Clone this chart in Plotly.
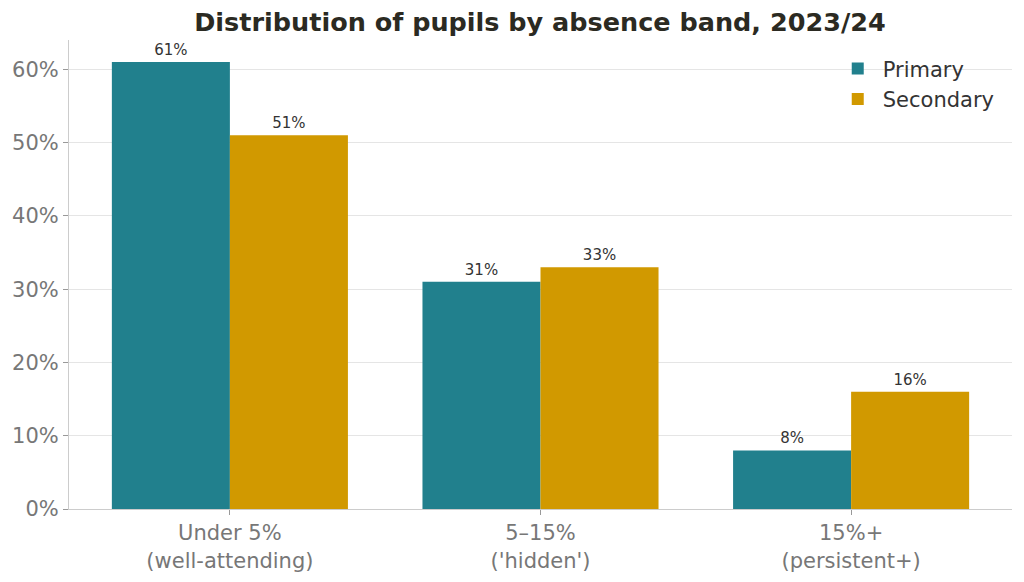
import plotly.graph_objects as go

categories = ["Under 5%<br>(well-attending)", "5–15%<br>('hidden')", "15%+<br>(persistent+)"]
primary = [61, 31, 8]
secondary = [51, 33, 16]
y_ticks = [0, 10, 20, 30, 40, 50, 60]
y_tick_labels = ["0%", "10%", "20%", "30%", "40%", "50%", "60%"]

TEAL = "#21808d"
GOLD = "#d19900"
FONT = "DejaVu Sans"

fig = go.Figure()
fig.add_trace(go.Bar(
    name="Primary", x=categories, y=primary, marker_color=TEAL,
    marker_line_width=0,
    text=[f"{v}%" for v in primary], textposition="outside",
    textfont=dict(size=15, color="#333333", family=FONT), cliponaxis=False,
))
fig.add_trace(go.Bar(
    name="Secondary", x=categories, y=secondary, marker_color=GOLD,
    marker_line_width=0,
    text=[f"{v}%" for v in secondary], textposition="outside",
    textfont=dict(size=15, color="#333333", family=FONT), cliponaxis=False,
))

# page body adds an 8px offset, so margins are shifted to compensate
fig.update_layout(
    width=1024, height=582,
    barmode="group", bargap=0.24, bargroupgap=0,
    plot_bgcolor="white", paper_bgcolor="white",
    font=dict(family=FONT, color="#777777", size=21),
    margin=dict(l=61, r=20, t=32, b=81),
    title=dict(
        text="<b>Distribution of pupils by absence band, 2023/24</b>",
        x=0.5195, xanchor="center", y=0.976, yanchor="middle",
        font=dict(size=25.5, color="#2b2a22", family=FONT),
    ),
    legend=dict(
        x=0.987, xanchor="right", y=0.982, yanchor="top",
        font=dict(size=21, color="#333333", family=FONT),
        bgcolor="rgba(0,0,0,0)", itemwidth=40,
    ),
)
fig.update_yaxes(
    range=[0, 64], tickvals=y_ticks, ticktext=y_tick_labels,
    showgrid=True, gridcolor="#e5e5e5", zeroline=False,
    showline=True, linecolor="#cccccc", linewidth=1,
    ticks="outside", ticklen=5, tickcolor="#999999",
    tickfont=dict(size=21, color="#777777"), automargin=False,
)
fig.update_xaxes(
    range=[-0.518, 2.518],
    showline=True, linecolor="#cccccc", linewidth=1,
    ticks="outside", ticklen=5, tickcolor="#999999",
    tickfont=dict(size=21, color="#777777"), automargin=False,
)

fig.write_html("out.html")
